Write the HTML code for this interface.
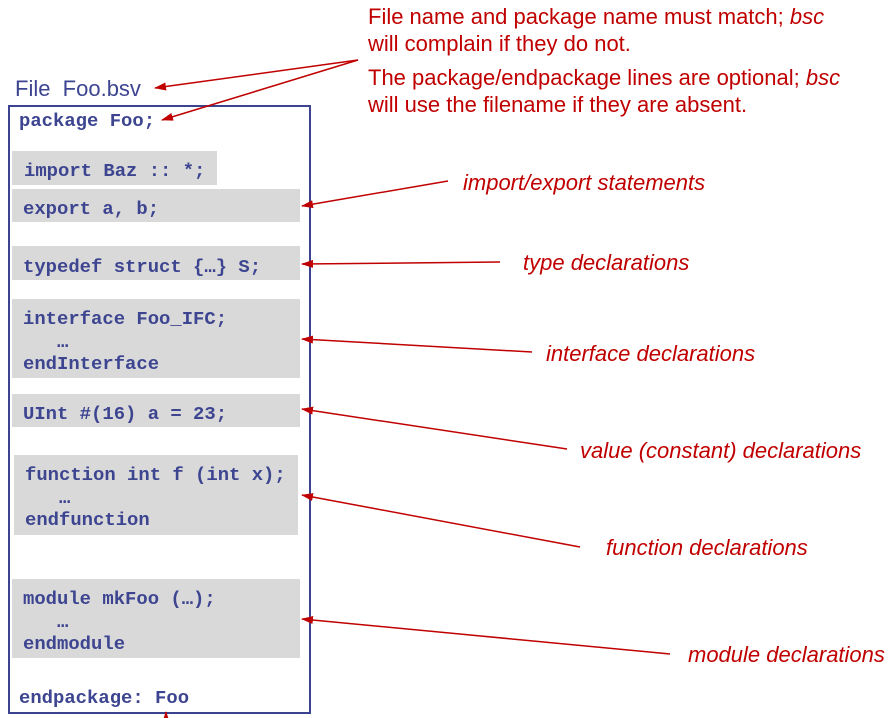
<!DOCTYPE html>
<html><head><meta charset="utf-8"><style>
body{margin:0;width:895px;height:718px;background:#fff;overflow:hidden;position:relative;font-family:"Liberation Sans",sans-serif}
.g{position:absolute;background:#d9d9d9}
.c{position:absolute;font-family:"Liberation Mono",monospace;font-weight:bold;font-size:18.9px;color:#3d4591;white-space:pre;line-height:22.5px}
.r{position:absolute;color:#c00000;font-size:22px;white-space:pre}
.i{font-style:italic}
</style></head><body>
<div style="position:absolute;left:8px;top:105px;width:299px;height:605px;border:2px solid #3c4390"></div>
<div class="g" style="left:12px;top:151px;width:205px;height:34px"></div>
<div class="g" style="left:12px;top:189px;width:288px;height:33px"></div>
<div class="g" style="left:12px;top:246px;width:288px;height:34px"></div>
<div class="g" style="left:12px;top:299px;width:288px;height:79px"></div>
<div class="g" style="left:12px;top:394px;width:288px;height:33px"></div>
<div class="g" style="left:14px;top:455px;width:284px;height:80px"></div>
<div class="g" style="left:12px;top:579px;width:288px;height:79px"></div>
<div style="position:absolute;left:15px;top:76px;font-size:22px;color:#3d4591;white-space:pre">File  Foo.bsv</div>
<div class="c" style="left:19px;top:110px">package Foo;</div>
<div class="c" style="left:24px;top:160px">import Baz :: *;</div>
<div class="c" style="left:23px;top:198px">export a, b;</div>
<div class="c" style="left:23px;top:256px">typedef struct {…} S;</div>
<div class="c" style="left:23px;top:308px">interface Foo_IFC;
   …
endInterface</div>
<div class="c" style="left:23px;top:403px">UInt #(16) a = 23;</div>
<div class="c" style="left:25px;top:464px">function int f (int x);
   …
endfunction</div>
<div class="c" style="left:23px;top:588px">module mkFoo (…);
   …
endmodule</div>
<div class="c" style="left:19px;top:687px">endpackage: Foo</div>
<div class="r" style="left:368px;top:3px;line-height:27px">File name and package name must match; <i>bsc</i>
will complain if they do not.</div>
<div class="r" style="left:368px;top:64px;line-height:27px">The package/endpackage lines are optional; <i>bsc</i>
will use the filename if they are absent.</div>
<div class="r i" style="left:463px;top:170px">import/export statements</div>
<div class="r i" style="left:523px;top:250px">type declarations</div>
<div class="r i" style="left:546px;top:341px">interface declarations</div>
<div class="r i" style="left:580px;top:438px">value (constant) declarations</div>
<div class="r i" style="left:606px;top:535px">function declarations</div>
<div class="r i" style="left:688px;top:642px">module declarations</div>
<svg width="895" height="718" style="position:absolute;left:0;top:0">
<defs><marker id="a" markerWidth="12" markerHeight="8" refX="11" refY="4" orient="auto" markerUnits="userSpaceOnUse"><path d="M0,0 L12,4 L0,8 z" fill="#c00000"/></marker></defs>
<g stroke="#c00000" stroke-width="1.5" fill="none" marker-end="url(#a)">
<line x1="358" y1="60" x2="155" y2="88"/>
<line x1="358" y1="60" x2="162" y2="120"/>
<line x1="448" y1="181" x2="302" y2="206"/>
<line x1="500" y1="262" x2="302" y2="264"/>
<line x1="532" y1="352" x2="302" y2="339"/>
<line x1="567" y1="449" x2="302" y2="409"/>
<line x1="580" y1="547" x2="302" y2="495"/>
<line x1="670" y1="654" x2="302" y2="619"/>
<line x1="166" y1="730" x2="166" y2="712"/>
</g></svg>
</body></html>
